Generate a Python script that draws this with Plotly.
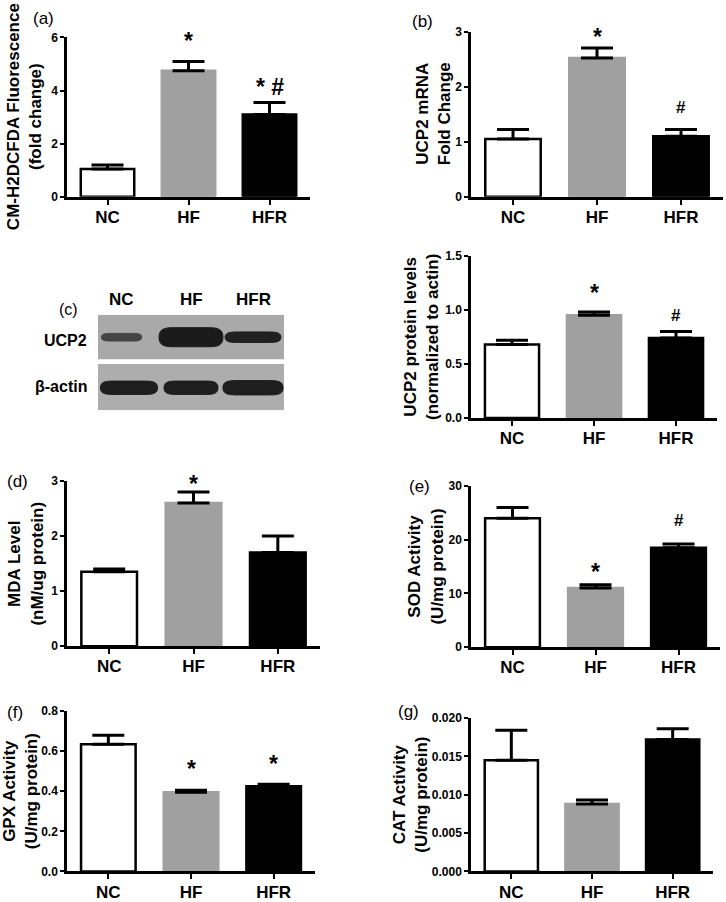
import plotly.graph_objects as go

W, H = 726, 902
FONT = "Liberation Sans, Arial, sans-serif"

groups = ["NC", "HF", "HFR"]
bar_fill = ["white", "#a0a0a0", "black"]
bar_edge = ["black", "#a0a0a0", "black"]

# (a) ROS
ros = [1.05, 4.75, 3.1]
ros_err = [0.15, 0.35, 0.45]
# (b) UCP2 mRNA
mrna = [1.05, 2.52, 1.1]
mrna_err = [0.17, 0.18, 0.12]
# (c) UCP2 protein
prot = [0.68, 0.95, 0.74]
prot_err = [0.04, 0.03, 0.06]
# (d) MDA
mda = [1.35, 2.6, 1.7]
mda_err = [0.05, 0.2, 0.3]
# (e) SOD
sod = [24.0, 11.0, 18.5]
sod_err = [2.0, 0.6, 0.7]
# (f) GPX
gpx = [0.635, 0.395, 0.425]
gpx_err = [0.045, 0.01, 0.01]
# (g) CAT
cat = [0.0145, 0.0088, 0.0172]
cat_err = [0.0039, 0.0005, 0.0014]

# western blot band sizes (lane units / row units)
ucp2_band_w = [0.65, 1.03, 0.9]
ucp2_band_h = [0.16, 0.4, 0.22]
ucp2_band_col = ["#444444", "#1a1a1a", "#202020"]
actin_band_w = [0.92, 0.87, 0.97]
actin_band_h = [0.28, 0.28, 0.3]

# pixel boxes: x0, x1, ytop, ybottom
panels = [
    dict(y=ros, e=ros_err, ymax=6, dtick=2, fmt="", box=(67, 310, 31, 193),
         title="CM-H2DCFDA Fluorescence<br>(fold change)", tx=24,
         tag="(a)", tag_xy=(43, 12),
         marks=[("HF", 6.0, "*"), ("HFR", 4.3, "* #")]),
    dict(y=mrna, e=mrna_err, ymax=3, dtick=1, fmt="", box=(471, 723, 25, 193),
         title="UCP2 mRNA<br>Fold Change", tx=433,
         tag="(b)", tag_xy=(423, 15),
         marks=[("HF", 2.97, "*"), ("HFR", 1.63, "#")]),
    dict(y=prot, e=prot_err, ymax=1.5, dtick=0.5, fmt=".1f", box=(471, 717, 253, 418),
         title="UCP2 protein levels<br>(normalized to actin)", tx=422,
         tag=None, tag_xy=None,
         marks=[("HF", 1.19, "*"), ("HFR", 0.95, "#")]),
    dict(y=mda, e=mda_err, ymax=3, dtick=1, fmt="", box=(67, 320, 482, 650),
         title="MDA Level<br>(nM/ug protein)", tx=26,
         tag="(d)", tag_xy=(17, 483),
         marks=[("HF", 3.02, "*")]),
    dict(y=sod, e=sod_err, ymax=30, dtick=10, fmt="", box=(471, 720, 487, 651),
         title="SOD Activity<br>(U/mg protein)", tx=426,
         tag="(e)", tag_xy=(420, 488),
         marks=[("HF", 14.7, "*"), ("HFR", 23.6, "#")]),
    dict(y=gpx, e=gpx_err, ymax=0.8, dtick=0.2, fmt=".1f", box=(67, 315, 716, 879),
         title="GPX Activity<br>(U/mg protein)", tx=20,
         tag="(f)", tag_xy=(15, 717),
         marks=[("HF", 0.53, "*"), ("HFR", 0.555, "*")]),
    dict(y=cat, e=cat_err, ymax=0.02, dtick=0.005, fmt=".3f", box=(471, 713, 723, 879),
         title="CAT Activity<br>(U/mg protein)", tx=411,
         tag="(g)", tag_xy=(408, 716),
         marks=[]),
]


def px(x):
    return x / W


def py(y):
    return 1 - y / H


def sfx(i):
    return "" if i == 1 else str(i)


fig = go.Figure()
annotations = []
shapes = []
layout = {}

for i, p in enumerate(panels, start=1):
    x0, x1, yt, yb = p["box"]
    xa, ya = "x" + sfx(i), "y" + sfx(i)
    fig.add_trace(go.Bar(
        x=groups, y=p["y"], xaxis=xa, yaxis=ya, width=0.66,
        marker=dict(color=bar_fill, line=dict(color=bar_edge, width=2.5)),
        error_y=dict(type="data", array=p["e"], arrayminus=[0, 0, 0], symmetric=False,
                     color="black", thickness=3, width=16),
        showlegend=False,
    ))
    layout["xaxis" + sfx(i)] = dict(
        domain=[px(x0), px(x1)], anchor=ya, range=[-0.5, 2.5],
        showline=True, linewidth=2.5, linecolor="black",
        ticks="outside", ticklen=5, tickwidth=2, tickcolor="black",
        ticklabelstandoff=-2,
        tickfont=dict(family=FONT, size=17, color="black", weight="bold"),
        showgrid=False, zeroline=False, fixedrange=True,
    )
    layout["yaxis" + sfx(i)] = dict(
        domain=[py(yb), py(yt)], anchor=xa, range=[0, p["ymax"]],
        dtick=p["dtick"], tick0=0, tickformat=p["fmt"],
        showline=True, linewidth=2.5, linecolor="black",
        ticks="outside", ticklen=4, tickwidth=2, tickcolor="black",
        tickfont=dict(family=FONT, size=12, color="black", weight="bold"),
        showgrid=False, zeroline=False, fixedrange=True,
    )
    annotations.append(dict(
        text=p["title"], xref="paper", yref="paper", x=px(p["tx"]), y=py((yt + yb) / 2),
        xanchor="center", yanchor="middle", textangle=-90, showarrow=False,
        font=dict(family=FONT, size=17, color="black", weight="bold"),
    ))
    if p["tag"]:
        annotations.append(dict(
            text=p["tag"], xref="paper", yref="paper",
            x=px(p["tag_xy"][0]), y=py(p["tag_xy"][1]),
            xanchor="center", yanchor="middle", showarrow=False,
            font=dict(family=FONT, size=17, color="black"),
        ))
    for g, yv, t in p["marks"]:
        big = t.startswith("*")
        annotations.append(dict(
            text=t, xref=xa, yref=ya + " domain", x=g, y=yv / p["ymax"], showarrow=False,
            xanchor="center", yanchor="middle", yshift=-4 if big else 0,
            font=dict(family=FONT, size=23 if big else 17, color="black", weight="bold"),
        ))

# western blot panel (c)
bi = len(panels) + 1
bx, by = "x%d" % bi, "y%d" % bi
layout["xaxis%d" % bi] = dict(domain=[px(98), px(284)], anchor=by, range=[-0.5, 2.5],
                              visible=False, fixedrange=True)
layout["yaxis%d" % bi] = dict(domain=[py(410), py(313)], anchor=bx, range=[0, 2],
                              visible=False, fixedrange=True)
fig.add_trace(go.Scatter(x=[0], y=[0], xaxis=bx, yaxis=by, mode="markers",
                         marker=dict(opacity=0), showlegend=False, hoverinfo="skip"))

shapes.append(dict(type="rect", xref=bx, yref=by, x0=-0.5, x1=2.5, y0=1.07, y1=2.0,
                   fillcolor="#a9a9a9", line=dict(width=0), layer="below"))
shapes.append(dict(type="rect", xref=bx, yref=by, x0=-0.5, x1=2.5, y0=0.0, y1=0.97,
                   fillcolor="#adadad", line=dict(width=0), layer="below"))


def band(xc, yc, w, h, col):
    l, r = xc - w / 2, xc + w / 2
    t, b = yc + h / 2, yc - h / 2
    k = w * 0.22
    path = ("M %f,%f C %f,%f %f,%f %f,%f L %f,%f C %f,%f %f,%f %f,%f "
            "C %f,%f %f,%f %f,%f L %f,%f C %f,%f %f,%f %f,%f Z" % (
                l, yc, l, yc + h * 0.4, l + k * 0.3, t, l + k, t,
                r - k, t, r - k * 0.3, t, r, yc + h * 0.4, r, yc,
                r, yc - h * 0.4, r - k * 0.3, b, r - k, b,
                l + k, b, l + k * 0.3, b, l, yc - h * 0.4, l, yc))
    return dict(type="path", path=path, xref=bx, yref=by, fillcolor=col,
                line=dict(color=col, width=1))


for j in range(3):
    shapes.append(band(j - 0.12 * (j == 0), 1.53, ucp2_band_w[j], ucp2_band_h[j], ucp2_band_col[j]))
    shapes.append(band(j, 0.47, actin_band_w[j], actin_band_h[j], "#1e1e1e"))
    annotations.append(dict(text=groups[j], xref=bx, yref="paper", x=j - 0.12 * (j == 0),
                            y=py(297), showarrow=False, xanchor="center", yanchor="middle",
                            font=dict(family=FONT, size=17, color="black", weight="bold")))

annotations.append(dict(text="(c)", xref="paper", yref="paper", x=px(57), y=py(297),
                        showarrow=False, font=dict(family=FONT, size=16, color="black")))
annotations.append(dict(text="UCP2", xref="paper", yref="paper", x=px(89), y=py(339),
                        xanchor="right", showarrow=False,
                        font=dict(family=FONT, size=16, color="black", weight="bold")))
annotations.append(dict(text="β-actin", xref="paper", yref="paper", x=px(89), y=py(386),
                        xanchor="right", showarrow=False,
                        font=dict(family=FONT, size=16, color="black", weight="bold")))

fig.update_layout(
    width=W, height=H, margin=dict(l=0, r=0, t=0, b=0),
    paper_bgcolor="white", plot_bgcolor="white",
    annotations=annotations, shapes=shapes, bargap=0.3,
    **layout,
)
# page body margin would push the fixed-size figure past the window edge
fig.write_html("out.html", config={"displayModeBar": False},
               post_script="document.body.style.margin='0px';")
